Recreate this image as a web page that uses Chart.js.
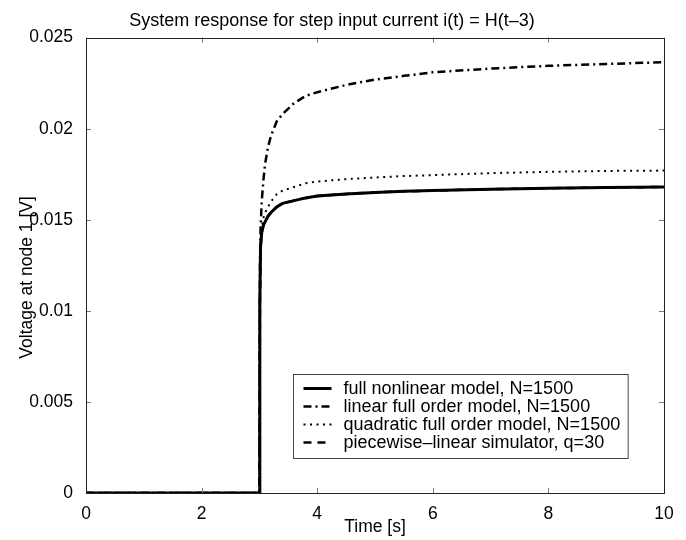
<!DOCTYPE html>
<html>
<head>
<meta charset="utf-8">
<script src="https://cdn.jsdelivr.net/npm/chart.js@4"></script>
<style>
  body { margin: 0; background: #fff; }
  #wrap { width: 686px; height: 540px; position: relative; }
</style>
</head>
<body>
<div id="wrap"><canvas id="myChart"></canvas></div>
<script>
// tiempos [s] y voltajes
const tiempos = [0, 1, 2, 3, 3.005, 3.01, 3.02, 3.04, 3.07, 3.1, 3.15, 3.2, 3.3, 3.4, 3.6, 3.8, 4, 4.5, 5, 5.5, 6, 7, 8, 9, 10]
const noLineal = [0, 0, 0, 0, 0.006, 0.0105, 0.0135, 0.0143, 0.0147, 0.0149, 0.0152, 0.0154, 0.0157, 0.0159, 0.01605, 0.0162, 0.0163, 0.01642, 0.0165, 0.01656, 0.0166, 0.01668, 0.01673, 0.01677, 0.0168]
const lineal = [0, 0, 0, 0, 0.008, 0.0125, 0.0145, 0.016, 0.0172, 0.0181, 0.019, 0.0196, 0.0204, 0.0208, 0.0214, 0.0218, 0.022, 0.0224, 0.0227, 0.0229, 0.0231, 0.0233, 0.02345, 0.02355, 0.02365]
const cuadratico = [0, 0, 0, 0, 0.007, 0.011, 0.0138, 0.0146, 0.0151, 0.0154, 0.0157, 0.016, 0.0164, 0.0166, 0.0168, 0.017, 0.0171, 0.01723, 0.01732, 0.0174, 0.01745, 0.01756, 0.01763, 0.01768, 0.0177]
const porTramos = [0, 0, 0, 0, 0.006, 0.0105, 0.0135, 0.0143, 0.0147, 0.0149, 0.0152, 0.0154, 0.0157, 0.0159, 0.01605, 0.0162, 0.0163, 0.01642, 0.0165, 0.01656, 0.0166, 0.01668, 0.01673, 0.01677, 0.0168]

const etiquetas = [
    'full nonlinear model, N=1500',
    'linear full order model, N=1500',
    'quadratic full order model, N=1500',
    'piecewise\u2013linear simulator, q=30'
]
const titulo = 'System response for step input current i(t) = H(t\u20133)'
const tituloX = 'Time [s]'
const tituloY = 'Voltage at node 1 [V]     '

const fuente = '"Liberation Sans", Arial, Helvetica, sans-serif'
Chart.defaults.font.family = fuente
Chart.defaults.font.size = 17.5
Chart.defaults.color = '#000'

const puntos = (ys) => tiempos.map((t, i) => ({ x: t, y: ys[i] }))

// caja de ejes con marcas hacia adentro, estilo matlab
const cajaEjes = {
    id: 'cajaEjes',
    afterDatasetsDraw(chart) {
        const { ctx, chartArea: a, scales } = chart
        ctx.save()
        ctx.strokeStyle = '#777'
        ctx.lineWidth = 1
        const largo = 5
        scales.x.ticks.forEach(t => {
            const px = Math.round(scales.x.getPixelForValue(t.value)) + 0.5
            ctx.beginPath()
            ctx.moveTo(px, a.bottom); ctx.lineTo(px, a.bottom - largo)
            ctx.moveTo(px, a.top); ctx.lineTo(px, a.top + largo)
            ctx.stroke()
        })
        scales.y.ticks.forEach(t => {
            const py = Math.round(scales.y.getPixelForValue(t.value)) + 0.5
            ctx.beginPath()
            ctx.moveTo(a.left, py); ctx.lineTo(a.left + largo, py)
            ctx.moveTo(a.right, py); ctx.lineTo(a.right - largo, py)
            ctx.stroke()
        })
        ctx.strokeStyle = '#222'
        ctx.strokeRect(Math.round(a.left) + 0.5, Math.round(a.top) + 0.5,
            Math.round(a.right - a.left), Math.round(a.bottom - a.top))
        ctx.restore()
    }
}

// leyenda dentro del grafico, abajo a la derecha
const leyendaMatlab = {
    id: 'leyendaMatlab',
    afterDraw(chart) {
        const { ctx, chartArea: a } = chart
        ctx.save()
        ctx.font = '18px ' + fuente
        const anchoTexto = Math.max(...chart.data.datasets.map(d => ctx.measureText(d.label).width))
        const alto = 84
        const ancho = 10 + 28 + 12 + anchoTexto + 8
        const x0 = Math.round(a.right - 36 - ancho) + 0.5
        const y0 = Math.round(a.bottom - 35 - alto) + 0.5
        ctx.fillStyle = '#fff'
        ctx.fillRect(x0, y0, ancho, alto)
        ctx.strokeStyle = '#444'
        ctx.lineWidth = 1
        ctx.strokeRect(x0, y0, ancho, alto)
        chart.data.datasets.forEach((d, i) => {
            const y = y0 + 14 + i * 18
            ctx.beginPath()
            ctx.setLineDash(d.borderDash || [])
            ctx.lineWidth = d.borderWidth
            ctx.strokeStyle = d.borderColor
            ctx.moveTo(x0 + 10, y)
            ctx.lineTo(x0 + 38, y)
            ctx.stroke()
            ctx.setLineDash([])
            ctx.fillStyle = '#000'
            ctx.textBaseline = 'middle'
            ctx.fillText(d.label, x0 + 50, y + 1)
        })
        ctx.restore()
    }
}

const ctx = document.getElementById('myChart')

new Chart(ctx, {
    type: 'line',
    data: {
        datasets: [{
            label: etiquetas[0],
            data: puntos(noLineal),
            borderColor: '#000',
            borderWidth: 3
        }, {
            label: etiquetas[1],
            data: puntos(lineal),
            borderColor: '#000',
            borderWidth: 2.5,
            borderDash: [8, 4, 2, 4]
        }, {
            label: etiquetas[2],
            data: puntos(cuadratico),
            borderColor: '#000',
            borderWidth: 2,
            borderDash: [2, 4.5]
        }, {
            label: etiquetas[3],
            data: puntos(porTramos),
            borderColor: '#000',
            borderWidth: 2.5,
            borderDash: [8, 6]
        }]
    },
    options: {
        responsive: true,
        maintainAspectRatio: false,
        animation: false,
        elements: { point: { radius: 0 }, line: { tension: 0, borderCapStyle: 'butt' } },
        layout: { padding: { left: 0, right: 22, top: 0, bottom: 0 } },
        plugins: {
            legend: { display: false },
            tooltip: { enabled: false },
            title: {
                display: true,
                text: titulo,
                font: { size: 18, weight: 'normal' },
                padding: { top: 10, bottom: 6 }
            }
        },
        scales: {
            x: {
                type: 'linear',
                min: 0,
                max: 10,
                ticks: { stepSize: 2, padding: 3, maxRotation: 0 },
                grid: { display: false },
                border: { display: false },
                title: { display: true, text: tituloX, padding: { top: 0, bottom: 2 } },
                afterFit: (s) => { s.height = 47 }
            },
            y: {
                min: 0,
                max: 0.025,
                ticks: {
                    stepSize: 0.005,
                    padding: 5,
                    callback: (v) => String(+v.toFixed(4))
                },
                grid: { display: false },
                border: { display: false },
                title: { display: true, text: tituloY, padding: { top: 17, bottom: 0 } },
                afterFit: (s) => { s.width = 86 }
            }
        }
    },
    plugins: [cajaEjes, leyendaMatlab]
})
</script>
</body>
</html>
